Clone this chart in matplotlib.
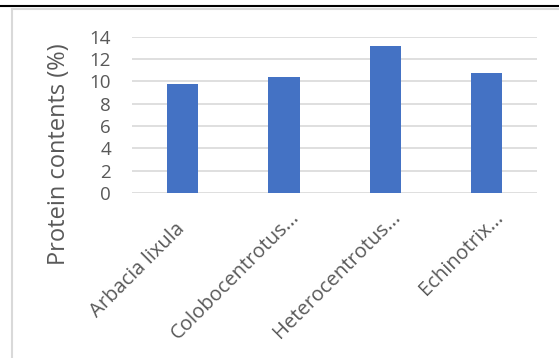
import matplotlib.pyplot as plt
from matplotlib.lines import Line2D
from matplotlib.transforms import ScaledTranslation

plt.rcParams['font.family'] = ['Open Sans', 'DejaVu Sans']

species = ['Arbacia lixula', 'Colobocentrotus...', 'Heterocentrotus...', 'Echinotrix...']
protein = [9.8, 10.4, 13.2, 10.8]
yticks = [0, 2, 4, 6, 8, 10, 12, 14]

BAR_COLOR = '#4472c4'
GRID_COLOR = '#d9d9d9'
TEXT_COLOR = '#595959'
DPI = 100

fig = plt.figure(figsize=(5.59, 3.58), dpi=DPI)
ax = fig.add_axes([0.236, 0.461, 0.725, 0.436])

x = list(range(len(species)))
ax.bar(x, protein, width=0.31, color=BAR_COLOR, zorder=3)

ax.set_xlim(-0.5, len(species) - 0.5)
ax.set_ylim(0, 14)
ax.set_yticks(yticks)
ax.set_xticks(x)
ax.set_xticklabels([])
ax.tick_params(axis='y', length=0, pad=15, labelsize=13.5, labelcolor=TEXT_COLOR)
ax.tick_params(axis='x', length=0)

for y in yticks:
    ax.axhline(y, color=GRID_COLOR, lw=1.2, zorder=1)
for s in ax.spines.values():
    s.set_visible(False)

# slanted category labels, end of baseline placed just right of / below each tick
# (the truncated names sit closer to the axis than the full one)
shifts_px = [(3, 37), (16, 25), (16, 25), (17, 25)]
for xi, name, (dx, dy) in zip(x, species, shifts_px):
    off = ScaledTranslation(dx / DPI, -dy / DPI, fig.dpi_scale_trans)
    ax.text(xi, 0, name, transform=ax.get_xaxis_transform() + off,
            rotation=45, rotation_mode='anchor', ha='right', va='baseline',
            fontsize=14.5, color=TEXT_COLOR)

ax.set_ylabel('Protein contents (%)', fontsize=17, color=TEXT_COLOR)
ax.yaxis.set_label_coords(-0.15, 0.25)

# outer chart frame and the rule above it
fig.add_artist(Line2D([11.5 / 559, 11.5 / 559], [0, 1 - 8.5 / 358],
                      transform=fig.transFigure, color=GRID_COLOR, lw=1.5))
fig.add_artist(Line2D([11.5 / 559, 1], [1 - 9 / 358, 1 - 9 / 358],
                      transform=fig.transFigure, color=GRID_COLOR, lw=1.5))
fig.add_artist(Line2D([0, 1], [1 - 6 / 358, 1 - 6 / 358],
                      transform=fig.transFigure, color='black', lw=1.5))

fig.savefig('out.png', dpi=DPI)
